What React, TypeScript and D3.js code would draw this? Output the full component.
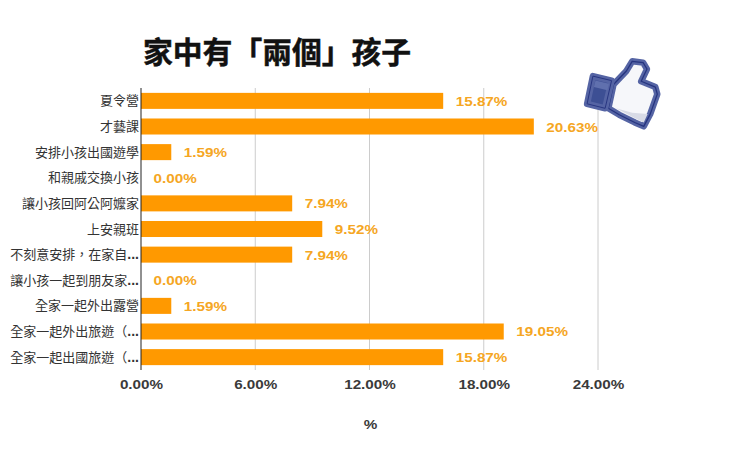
import React from 'react';
import * as d3 from 'd3';

const categories = [
  '夏令營',
  '才藝課',
  '安排小孩出國遊學',
  '和親戚交換小孩',
  '讓小孩回阿公阿嬤家',
  '上安親班',
  '不刻意安排，在家自...',
  '讓小孩一起到朋友家...',
  '全家一起外出露營',
  '全家一起外出旅遊（...',
  '全家一起出國旅遊（...'
];
const values = [15.87, 20.63, 1.59, 0, 7.94, 9.52, 7.94, 0, 1.59, 19.05, 15.87];
const xTicks = [0, 6, 12, 18, 24];

const latin = '"Liberation Sans", sans-serif';
const cjk = '"Liberation Sans", "Noto Sans CJK TC", sans-serif';

const x = d3.scaleLinear().domain([0, 24]).range([141, 598]);
const y = d3.scaleBand<string>().domain(categories).range([88, 370]).paddingInner(0.375).paddingOuter(0.19);

const fmt = (v: number) => v.toFixed(2) + '%';

// the numbers in the picture are a stretched bold arial
const stretched = (px: number, py: number) => `translate(${px},${py}) scale(1.13,1)`;

const handPath =
  'M132,104 L172,62 L190,32 L224,36 L236,56 L218,94 L262,112 L268,134 L246,196 L226,234 L198,222 L150,198 L116,178 Z';

// decorative thumbs-up picture in the corner
const Thumb = () => (
  <g transform="translate(571,51) scale(0.322)" strokeLinejoin="round">
    <path d={handPath} fill="#f6f7fa" stroke="#5564a4" strokeWidth={20} />
    <path d={handPath} fill="none" stroke="#26347f" strokeWidth={4} />
    <path d="M140,178 L200,210 L226,222 L238,196 L190,192 Z" fill="#d8dbe6" />
    <path d="M68,78 L126,92 L106,178 L50,164 Z" fill="#3d4f94" stroke="#5564a4" strokeWidth={20} />
    <path d="M68,78 L126,92 L106,178 L50,164 Z" fill="none" stroke="#26347f" strokeWidth={3} />
    <path d="M76,92 L118,102 L113,122 L71,112 Z" fill="#6070ae" />
  </g>
);

export default function App() {
  return (
    <svg
      width={739}
      height={457}
      style={{ position: 'absolute', left: 0, top: 0, background: '#fff' }}
    >
      <text
        x={143}
        y={63}
        fontFamily={cjk}
        fontSize={29.8}
        fontWeight="bold"
        fill="#111"
        stroke="#111"
        strokeWidth={0.5}
      >
        家中有「兩個」孩子
      </text>

      {xTicks.slice(1).map(t => (
        <line key={t} x1={x(t)} x2={x(t)} y1={88} y2={370} stroke="#cccccc" />
      ))}

      {categories.map((c, i) => (
        <rect key={c} x={x(0)} y={y(c)} width={x(values[i]) - x(0)} height={y.bandwidth()} fill="#ff9900" />
      ))}

      <line x1={x(0)} x2={x(0)} y1={88} y2={370} stroke="#222" strokeWidth={1} />

      {categories.map(c => {
        const cut = c.endsWith('...');
        return (
          <text
            key={c}
            x={139}
            y={y(c)! + y.bandwidth() / 2 + 4.5}
            textAnchor="end"
            fontFamily={cjk}
            fontSize={13}
            fill="#333"
          >
            {cut ? c.slice(0, -3) : c}
            {cut && (
              <tspan fontWeight="bold" fontSize={14}>
                ...
              </tspan>
            )}
          </text>
        );
      })}

      {categories.map((c, i) => (
        <text
          key={c}
          transform={stretched(x(values[i]) + 12.5, y(c)! + y.bandwidth() / 2 + 5)}
          fontFamily={latin}
          fontSize={13.5}
          fontWeight="bold"
          fill="#f5a623"
        >
          {fmt(values[i])}
        </text>
      ))}

      {xTicks.map(t => (
        <text
          key={t}
          transform={stretched(x(t) + 0.5, 389)}
          textAnchor="middle"
          fontFamily={latin}
          fontSize={13.5}
          fontWeight="bold"
          fill="#3a3a3a"
        >
          {fmt(t)}
        </text>
      ))}

      <text
        transform={stretched(370.5, 429)}
        textAnchor="middle"
        fontFamily={latin}
        fontSize={13.5}
        fontWeight="bold"
        fill="#3a3a3a"
      >
        %
      </text>

      <Thumb />
    </svg>
  );
}
